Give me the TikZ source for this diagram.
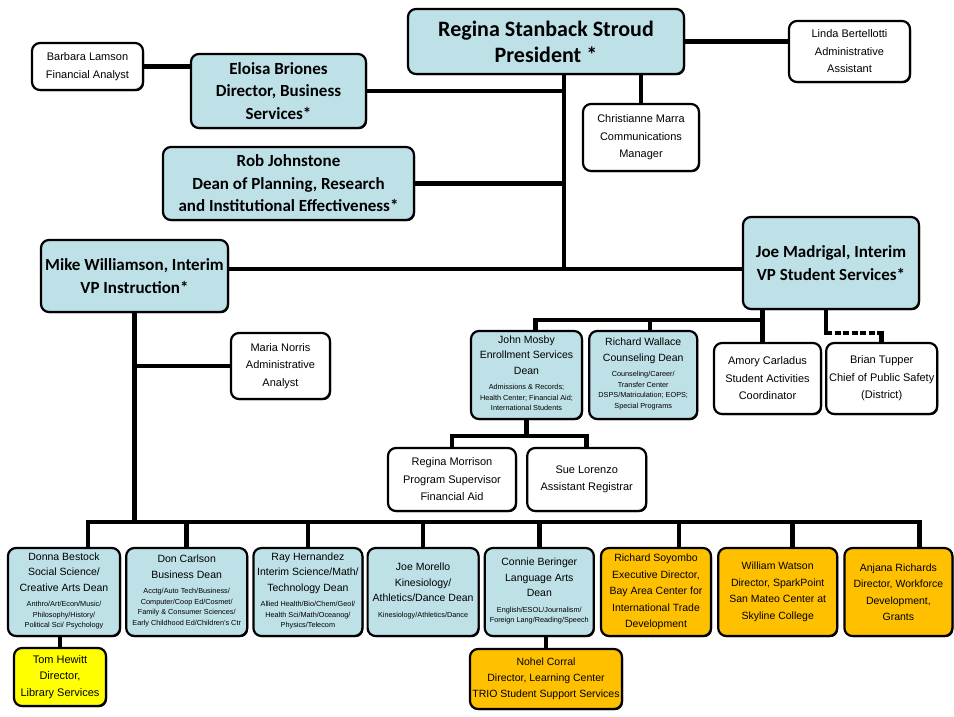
\documentclass[tikz,border=0pt]{standalone}
\usepackage{fontspec}
\setmainfont{Liberation Sans}
\newfontfamily\titlefont{Carlito}
\usepackage{tikz}
\usetikzlibrary{positioning,backgrounds,shadows}
\definecolor{paleblue}{RGB}{190, 225, 231}
\definecolor{amber}{RGB}{255, 192, 0}
\definecolor{lemon}{RGB}{255, 255, 0}
\newcommand{\sub}[1]{{\fontsize{7.3}{10.5}\selectfont\begin{tabular}[t]{@{}c@{}}#1\end{tabular}}}
\tikzstyle{box} = [draw=black, line width=2.2pt, rounded corners=8pt, inner sep=1pt, align=center, text=black, general shadow={fill=black, shadow xshift=1pt, shadow yshift=-1.2pt}]
\tikzstyle{head} = [box, fill=paleblue, font=\titlefont\bfseries\fontsize{17}{22.5}\selectfont]
\tikzstyle{staff} = [box, fill=white, font=\fontsize{11}{17.5}\selectfont]
\tikzstyle{dean} = [box, fill=paleblue, font=\fontsize{10.5}{15.5}\selectfont, minimum height=88pt]
\tikzstyle{director} = [box, fill=amber, font=\fontsize{10.5}{16.5}\selectfont]
\tikzstyle{conn} = [draw, line width=4.5pt, line cap=rect]
\tikzstyle{dashlink} = [draw, line width=4.5pt, line cap=butt, dash pattern=on 6pt off 2.5pt]

\begin{document}
\begin{tikzpicture}[x=1pt, y=-1pt]
\useasboundingbox (0,0) rectangle (954,716);

% president's office =============================
\node[head, font=\titlefont\bfseries\fontsize{22}{26}\selectfont, minimum width=276pt, minimum height=65pt] (pres) at (546,41.5) {Regina Stanback Stroud\\President *};
\node[staff, minimum width=121pt, minimum height=61pt] (linda) at (849.5,51.5) {Linda Bertellotti\\Administrative\\Assistant};
\node[staff, minimum width=111pt, minimum height=47pt] (barbara) at (87.5,66.5) {Barbara Lamson\\Financial Analyst};
\node[head, minimum width=175pt, minimum height=74pt] (eloisa) at (278.5,91) {Eloisa Briones\\Director, Business\\Services*};
\node[staff, minimum width=116pt, minimum height=67pt] (chris) at (641,137.5) {Christianne Marra\\Communications\\Manager};
\node[head, minimum width=251pt, minimum height=73pt] (rob) at (288.5,183.5) {Rob Johnstone\\Dean of Planning, Research\\and Institutional Effectiveness*};

% vice presidents
\node[head, minimum width=187pt, minimum height=72pt] (mike) at (134.5,276) {Mike Williamson, Interim\\VP Instruction*};
\node[head, minimum width=176pt, minimum height=92pt] (vpss) at (831,263) {Joe Madrigal, Interim\\VP Student Services*};
\node[staff, minimum width=99pt, minimum height=66pt] (maria) at (280.5,366) {Maria Norris\\Administrative\\Analyst};

% student services
\node[dean, minimum width=111pt] (john) at (526.5,375) {John Mosby\\Enrollment Services\\Dean\\\sub{Admissions \& Records;\\Health Center; Financial Aid;\\International Students}};
\node[dean, minimum width=108pt, right=5pt of john] (richw) {Richard Wallace\\Counseling Dean\\\sub{Counseling/Career/\\Transfer Center\\DSPS/Matriculation; EOPS;\\Special Programs}};
\node[staff, minimum width=107pt, minimum height=71pt] (amory) at (767.5,378.5) {Amory Carladus\\Student Activities\\Coordinator};
\node[staff, minimum width=111pt, minimum height=71pt, right=3pt of amory] (brian) {Brian Tupper\\Chief of Public Safety\\(District)};
\node[staff, minimum width=128pt, minimum height=63pt] (morrison) at (452,479.5) {Regina Morrison\\Program Supervisor\\Financial Aid};
\node[staff, minimum width=119pt, minimum height=63pt, right=9pt of morrison] (sue) {Sue Lorenzo\\Assistant Registrar};

% instruction
\node[dean, minimum width=112pt] (donna) at (64,592) {Donna Bestock\\Social Science/\\Creative Arts Dean\\\sub{Anthro/Art/Econ/Music/\\Philosophy/History/\\Political Sci/ Psychology}};
\node[dean, minimum width=121pt, right=4pt of donna] (don) {Don Carlson\\Business Dean\\\sub{Acctg/Auto Tech/Business/\\Computer/Coop Ed/Cosmet/\\Family \& Consumer Sciences/\\Early Childhood Ed/Children's Ctr}};
\node[dean, minimum width=109pt, right=4pt of don] (ray) {Ray Hernandez\\Interim Science/Math/\\Technology Dean\\\sub{Allied Health/Bio/Chem/Geol/\\Health Sci/Math/Oceanog/\\Physics/Telecom}};
\node[dean, minimum width=111pt, right=3pt of ray] (morello) {Joe Morello\\Kinesiology/\\Athletics/Dance Dean\\\sub{Kinesiology/Athletics/Dance}};
\node[dean, minimum width=109pt, right=4pt of morello] (connie) {Connie Beringer\\Language Arts\\Dean\\\sub{English/ESOL/Journalism/\\Foreign Lang/Reading/Speech}};
\node[director, minimum width=110pt, minimum height=88pt, right=5pt of connie] (soyombo) {Richard Soyombo\\Executive Director,\\Bay Area Center for\\International Trade\\Development};
\node[director, minimum width=119pt, minimum height=88pt, right=5pt of soyombo] (watson) {William Watson\\Director, SparkPoint\\San Mateo Center at\\Skyline College};
\node[director, minimum width=108pt, minimum height=88pt, right=5pt of watson] (anjana) {Anjana Richards\\Director, Workforce\\Development,\\Grants};
\node[box, fill=lemon, font=\fontsize{11}{16.5}\selectfont, minimum width=92pt, minimum height=58pt] (tom) at (60,677) {Tom Hewitt\\Director,\\Library Services};
\node[director, font=\fontsize{10.5}{16}\selectfont, minimum width=152pt, minimum height=60pt] (nohel) at (546,679) {Nohel Corral\\Director, Learning Center\\TRIO Student Support Services};

%edges
\coordinate (vp) at (564,269);
\coordinate (ss) at (0,320);
\coordinate (fa) at (0,436);
\coordinate (bus) at (0,522);
\coordinate (bt) at (826,333);

\begin{scope}[on background layer]
\path[conn] (pres.south -| vp) -- (vp);
\path[conn] (pres.east) -- (pres.east -| linda.west);
\path[conn] (chris.north |- pres.south) -- (chris.north);
\path[conn] (barbara.east) -- (barbara.east -| eloisa.west);
\path[conn] (eloisa.east) -- (eloisa.east -| vp);
\path[conn] (rob.east) -- (rob.east -| vp);
\path[conn] (mike.east |- vp) -- (vpss.west |- vp);

\path[conn] ([xshift=-5pt]amory.north |- vpss.south) -- ([xshift=-5pt]amory.north);
\path[conn] ([xshift=9pt]john.north |- ss) -- ([xshift=-5pt]amory.north |- ss);
\path[conn] ([xshift=9pt]john.north |- ss) -- ([xshift=9pt]john.north);
\path[conn] ([xshift=7pt]richw.north |- ss) -- ([xshift=7pt]richw.north);
\path[conn] (vpss.south -| bt) -- (bt);
\path[dashlink] (bt) -- (bt -| brian.north);
\path[conn] (bt -| brian.north) -- (brian.north);

\path[conn] (john.south) -- (john.south |- fa);
\path[conn] (morrison.north |- fa) -- (sue.north |- fa);
\path[conn] (morrison.north |- fa) -- (morrison.north);
\path[conn] (sue.north |- fa) -- (sue.north);

\path[conn] (mike.south) -- (mike.south |- bus);
\path[conn] (mike.south |- maria.west) -- (maria.west);
\path[conn] ([xshift=24pt]donna.north |- bus) -- ([xshift=21pt]anjana.north |- bus);
\path[conn] ([xshift=24pt]donna.north |- bus) -- ([xshift=24pt]donna.north);
\path[conn] (don.north |- bus) -- (don.north);
\path[conn] (ray.north |- bus) -- (ray.north);
\path[conn] (morello.north |- bus) -- (morello.north);
\path[conn] (connie.north |- bus) -- (connie.north);
\path[conn] ([xshift=23pt]soyombo.north |- bus) -- ([xshift=23pt]soyombo.north);
\path[conn] ([xshift=15pt]watson.north |- bus) -- ([xshift=15pt]watson.north);
\path[conn] ([xshift=21pt]anjana.north |- bus) -- ([xshift=21pt]anjana.north);
\path[conn] (tom.north |- donna.south) -- (tom.north);
\path[conn] (nohel.north |- connie.south) -- (nohel.north);
\end{scope}

\end{tikzpicture}
\end{document}
